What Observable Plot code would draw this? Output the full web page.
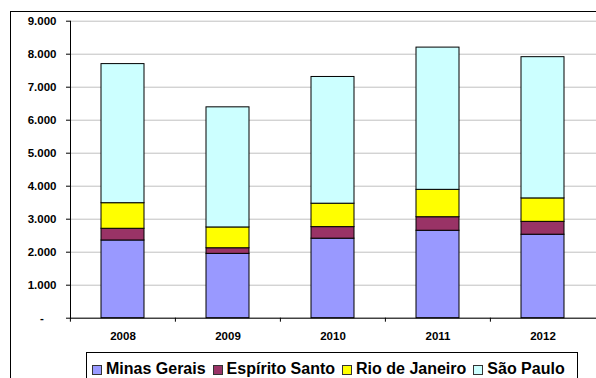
<!DOCTYPE html>
<html><head><meta charset="utf-8">
<script src="https://cdn.jsdelivr.net/npm/d3@7"></script>
<script src="https://cdn.jsdelivr.net/npm/@observablehq/plot@0.6"></script>
<style>
body{margin:0;background:#fff;font-family:"Liberation Sans",Arial,sans-serif;}
#wrap{position:relative;width:596px;height:378px;overflow:hidden;background:#fff;}
#chart{position:absolute;left:0;top:0;}
#frame{position:absolute;left:10px;top:11px;width:620px;height:420px;border:1.5px solid #000;box-sizing:border-box;pointer-events:none;}
#legend{position:absolute;left:86px;top:352px;width:492px;height:40px;border:1px solid #000;box-sizing:border-box;background:#fff;display:flex;align-items:flex-start;padding:8px 0 0 5px;font-weight:bold;font-size:16px;line-height:16px;white-space:nowrap;}
.item{display:flex;align-items:center;margin-right:7px;}
.sw{width:8px;height:8px;border:1px solid #333;margin-right:4px;margin-top:1px;}
</style></head>
<body><div id="wrap"><div id="frame"></div><div id="chart"></div><div id="legend"></div></div>
<script>
const years = ["2008", "2009", "2010", "2011", "2012"];
const regions = ["Minas Gerais", "Espírito Santo", "Rio de Janeiro", "São Paulo"];
const minasGerais = [2355, 1950, 2410, 2650, 2530];
const espiritoSanto = [355, 170, 350, 410, 390];
const rioDeJaneiro = [775, 630, 710, 830, 710];
const saoPaulo = [4215, 3640, 3840, 4310, 4280];
const colors = ["#9999FF", "#993366", "#FFFF00", "#CCFFFF"];
const yTicks = [0, 1000, 2000, 3000, 4000, 5000, 6000, 7000, 8000, 9000];

const series = [minasGerais, espiritoSanto, rioDeJaneiro, saoPaulo];
const data = years.flatMap((year, i) => series.map((s, j) => ({year, region: regions[j], value: s[i]})));

const W = 596, ML = 70, MR = 0;
const step = (W - ML - MR) / years.length;
const fmt = d => d === 0 ? "-\u00a0\u00a0\u00a0\u00a0" : d3.format(",")(d).replace(/,/g, ".");

const chart = Plot.plot({
  width: W, height: 378,
  marginLeft: ML, marginRight: MR, marginTop: 20.7, marginBottom: 60.3,
  style: {fontFamily: '"Liberation Sans", Arial, sans-serif', fontSize: "11.5px", fontWeight: "bold", background: "transparent", color: "#000"},
  x: {domain: years, paddingInner: 0.59, paddingOuter: 0.295, label: null},
  y: {domain: [0, 9000], label: null},
  color: {domain: regions, range: colors},
  marks: [
    Plot.gridY(yTicks, {stroke: "#c0c0c0", strokeOpacity: 1}),
    Plot.barY(data, {x: "year", y: "value", fill: "region", stroke: "#000", strokeWidth: 1, order: regions}),
    Plot.frame({anchor: "left", stroke: "#000"}),
    Plot.frame({anchor: "bottom", stroke: "#000"}),
    Plot.axisY(yTicks, {tickSize: 4, tickPadding: 10, tickFormat: fmt, stroke: "#000"}),
    Plot.axisX({tickSize: 4, tickFormat: () => "", dx: -step / 2, stroke: "#000"}),
    Plot.axisX({tickSize: 0, tickPadding: 14})
  ]
});
document.getElementById("chart").appendChild(chart);

const legend = document.getElementById("legend");
regions.forEach((r, i) => {
  const it = document.createElement("div");
  it.className = "item";
  const sw = document.createElement("div");
  sw.className = "sw";
  sw.style.background = colors[i];
  const t = document.createElement("span");
  t.textContent = r;
  it.appendChild(sw); it.appendChild(t);
  legend.appendChild(it);
});
</script></body></html>
